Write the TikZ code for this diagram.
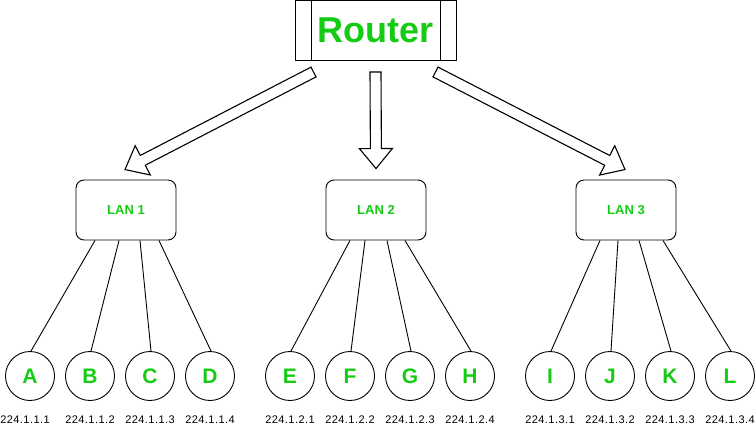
\documentclass[tikz,border=0pt]{standalone}
\usepackage{fontspec}
\setmainfont{Liberation Sans}
\newfontfamily\ipfont[LetterSpace=4]{Liberation Sans}
\usetikzlibrary{calc}
\definecolor{hostgreen}{RGB}{20,204,20}

% hollow block arrow from #1 to #2: shaft half-width 5.5pt, head half-width 16.5pt, head length 20pt
\newcommand\hollowarrow[2]{%
  \draw[fatarrow] let \p1=(#1), \p2=(#2),
      \n1={atan2(\y2-\y1,\x2-\x1)},
      \n2={veclen(\x2-\x1,\y2-\y1)},
      \n3={\n2-20pt} in
    [shift={(\p1)}, rotate=\n1]
    (0pt,-5.5pt) -- (\n3,-5.5pt) -- (\n3,-16.5pt) -- (\n2,0pt)
    -- (\n3,16.5pt) -- (\n3,5.5pt) -- (0pt,5.5pt) -- cycle;}

\begin{document}
\begin{tikzpicture}[x=1pt,y=-1pt,
  routerbox/.style={draw, line width=1pt, minimum width=161, minimum height=60, inner sep=0,
    text=hostgreen, font=\fontsize{36}{40}\selectfont\bfseries},
  lanbox/.style={draw, line width=0.9pt, rounded corners=8pt, minimum width=100, minimum height=60,
    inner sep=0, text=hostgreen, font=\fontsize{13}{15}\selectfont\bfseries},
  hostnode/.style={draw, circle, line width=0.9pt, minimum size=49, inner sep=0,
    text=hostgreen, font=\fontsize{21}{24}\selectfont\bfseries},
  iplabel/.style={inner sep=0, font=\ipfont\fontsize{11}{13}\selectfont},
  link/.style={draw, line width=0.9pt},
  fatarrow/.style={draw, line width=1.1pt, line join=miter, fill=white}]

\useasboundingbox (0,0) rectangle (756,432);

% router with its two side bars
\node[routerbox] (router) at (375.5,30.5) {Router};
\draw[line width=1pt] ([xshift=17pt]router.north west) -- ([xshift=17pt]router.south west);
\draw[line width=1pt] ([xshift=-16pt]router.north east) -- ([xshift=-16pt]router.south east);

% the three LANs
\node[lanbox] (lan1) at (126,210) {LAN 1};
\node[lanbox] (lan2) at (376,210) {LAN 2};
\node[lanbox] (lan3) at (626,210) {LAN 3};

% routing arrows
\hollowarrow{[xshift=-62pt,yshift=-11pt]router.south}{[xshift=-1pt,yshift=10pt]lan1.north}
\hollowarrow{[yshift=-11pt]router.south}{[yshift=11pt]lan2.north}
\hollowarrow{[xshift=60pt,yshift=-11pt]router.south}{[xshift=-1pt,yshift=10pt]lan3.north}

% hosts
\foreach \name/\x in {A/30,B/90,C/150,D/210,E/290,F/350,G/410,H/470,I/550,J/610,K/670,L/730}
  \node[hostnode] (\name) at (\x,376) {\name};

% addresses
\node[iplabel] (ipA) at (25,420) {224.1.1.1};
\node[iplabel] (ipB) at (90,420) {224.1.1.2};
\node[iplabel] (ipC) at (150,420) {224.1.1.3};
\node[iplabel] (ipD) at (210,420) {224.1.1.4};
\node[iplabel] (ipE) at (290,420) {224.1.2.1};
\node[iplabel] (ipF) at (350,420) {224.1.2.2};
\node[iplabel] (ipG) at (410,420) {224.1.2.3};
\node[iplabel] (ipH) at (470,420) {224.1.2.4};
\node[iplabel] (ipI) at (550,420) {224.1.3.1};
\node[iplabel] (ipJ) at (610,420) {224.1.3.2};
\node[iplabel] (ipK) at (670,420) {224.1.3.3};
\node[iplabel] (ipL) at (730,420) {224.1.3.4};

% LAN to host links
\draw[link] ([xshift=-31pt]lan1.south) -- ([xshift=1pt]A.north);
\draw[link] ([xshift=-7pt]lan1.south) -- ([xshift=1pt]B.north);
\draw[link] ([xshift=14pt]lan1.south) -- ([xshift=1pt]C.north);
\draw[link] ([xshift=33pt]lan1.south) -- ([xshift=1pt]D.north);
\draw[link] ([xshift=-26pt]lan2.south) -- ([xshift=1pt]E.north);
\draw[link] ([xshift=-11pt]lan2.south) -- ([xshift=1pt]F.north);
\draw[link] ([xshift=11pt]lan2.south) -- ([xshift=1pt]G.north);
\draw[link] ([xshift=29pt]lan2.south) -- ([xshift=1pt]H.north);
\draw[link] ([xshift=-26pt]lan3.south) -- ([xshift=1pt]I.north);
\draw[link] ([xshift=-8pt]lan3.south) -- ([xshift=1pt]J.north);
\draw[link] ([xshift=13pt]lan3.south) -- ([xshift=1pt]K.north);
\draw[link] ([xshift=37pt]lan3.south) -- ([xshift=1pt]L.north);
\end{tikzpicture}
\end{document}
